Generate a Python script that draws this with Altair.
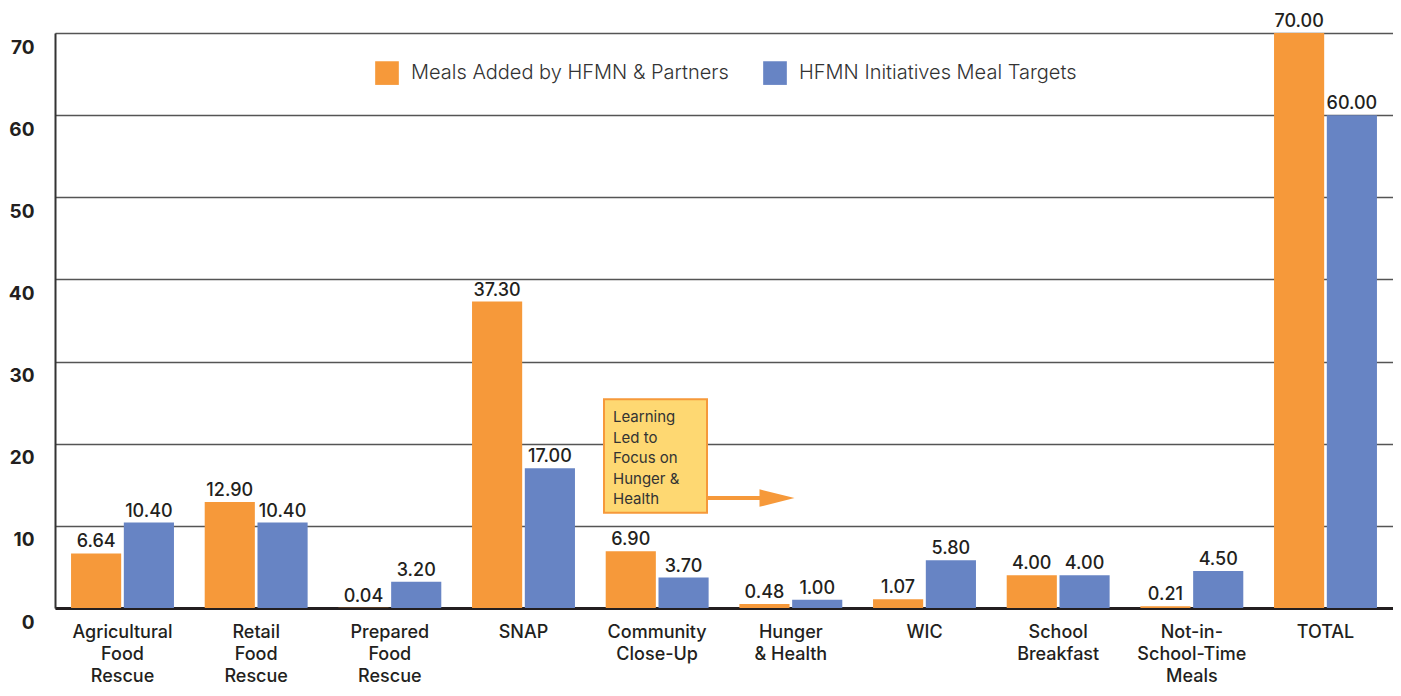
import altair as alt
import pandas as pd

categories = ["Agricultural|Food|Rescue", "Retail|Food|Rescue", "Prepared|Food|Rescue", "SNAP",
              "Community|Close-Up", "Hunger|& Health", "WIC", "School|Breakfast",
              "Not-in-|School-Time|Meals", "TOTAL"]
meals_added = [6.64, 12.90, 0.04, 37.30, 6.90, 0.48, 1.07, 4.00, 0.21, 70.00]
meal_targets = [10.40, 10.40, 3.20, 17.00, 3.70, 1.00, 5.80, 4.00, 4.50, 60.00]
series = ["Meals Added by HFMN & Partners", "HFMN Initiatives Meal Targets"]
colors = ["#F6993A", "#6784C4"]

note_text = ["Learning", "Led to", "Focus on", "Hunger &", "Health"]
note_top, note_bottom = 25.4, 11.6

rows = []
for c, a, t in zip(categories, meals_added, meal_targets):
    rows.append({"cat": c, "series": series[0], "value": a})
    rows.append({"cat": c, "series": series[1], "value": t})
df = pd.DataFrame(rows)

FONT = "Inter"
TXT = "#231f20"

x_enc = alt.X("cat:N", sort=categories, title=None,
              scale=alt.Scale(paddingInner=0.23, paddingOuter=0.12),
              axis=alt.Axis(labelExpr="split(datum.value, '|')", labelAngle=0,
                            labelFont=FONT, labelFontSize=18, labelFontWeight=500,
                            labelColor=TXT, labelLineHeight=22, labelBaseline="top",
                            labelPadding=15, ticks=False, domainColor=TXT,
                            domainWidth=3, grid=False, labelLimit=200))
xo_enc = alt.XOffset("series:N", sort=series, scale=alt.Scale(paddingInner=0.05))
y_enc = alt.Y("value:Q", title=None,
              scale=alt.Scale(domain=[0, 70], nice=False),
              axis=alt.Axis(values=[0, 10, 20, 30, 40, 50, 60, 70], ticks=False,
                            labelFont=FONT, labelFontSize=19, labelFontWeight="bold",
                            labelColor=TXT, labelPadding=21, labelOffset=14,
                            labelFlush=False, labelOverlap=False,
                            labelBaseline="middle", labelAlign="right",
                            gridColor="#555555", gridWidth=1.5,
                            domainColor="#333333", domainWidth=2))
color_enc = alt.Color("series:N", sort=series,
                      scale=alt.Scale(domain=series, range=colors), title=None,
                      legend=alt.Legend(orient="none", legendX=320, legendY=28,
                                        direction="horizontal",
                                        symbolType="square",
                                        symbolSize=560, symbolStrokeWidth=0,
                                        symbolOpacity=1,
                                        labelFont=FONT, labelFontSize=20,
                                        labelFontWeight=300, labelColor="#333333",
                                        labelOffset=12, columnPadding=34,
                                        padding=0, labelLimit=400))

bars = alt.Chart(df).mark_bar().encode(x=x_enc, xOffset=xo_enc, y=y_enc, color=color_enc)
labels = alt.Chart(df).mark_text(dy=-6, baseline="alphabetic", font=FONT, fontSize=18,
                                 fontWeight=500, color=TXT).encode(
    x=alt.X("cat:N", sort=categories), xOffset=xo_enc, y="value:Q",
    text=alt.Text("value:Q", format=".2f"))

note_df = pd.DataFrame({"top": [note_top], "bottom": [note_bottom],
                        "txt": ["\n".join(note_text)]})
box = alt.Chart(note_df).mark_rect(fill="#FED872", stroke="#F6993A", strokeWidth=2).encode(
    x=alt.value(549), x2=alt.value(652), y="top:Q", y2="bottom:Q")
note = alt.Chart(note_df).mark_text(align="left", baseline="top", font=FONT, fontSize=15,
                                    color="#333333", lineHeight=20.5, lineBreak="\n").encode(
    x=alt.value(558), y=alt.value(377), text="txt:N")
shaft = alt.Chart(note_df).mark_rule(color="#F6993A", strokeWidth=4).encode(
    x=alt.value(652), x2=alt.value(710), y=alt.value(465))
head = alt.Chart(note_df).mark_point(shape="M-1,-0.5L1,0L-1,0.5Z", filled=True,
                                     fill="#F6993A", opacity=1, size=1225,
                                     strokeWidth=0).encode(
    x=alt.value(722), y=alt.value(465))

chart = alt.layer(bars, labels, box, note, shaft, head).properties(
    width=1338, height=575,
    autosize=alt.AutoSizeParams(type="none"),
    padding={"left": 47, "top": 25, "right": 0, "bottom": 80},
).configure_view(stroke=None).configure(background="white")

chart.save("out.html", embed_options={"renderer": "svg", "actions": False})
